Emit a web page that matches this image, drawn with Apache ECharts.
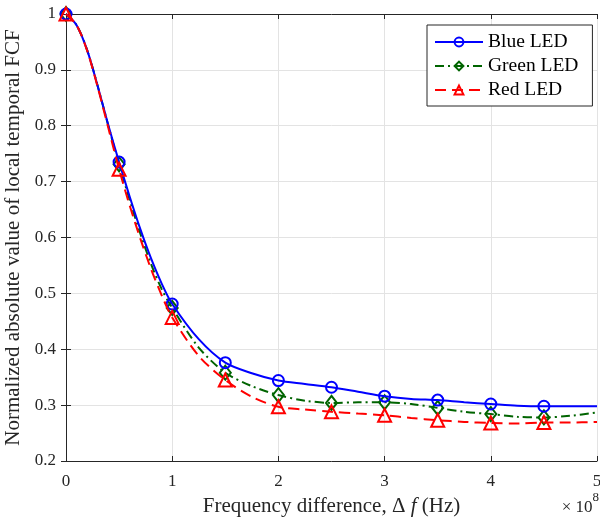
<!DOCTYPE html>
<html><head><meta charset="utf-8">
<script src="https://cdn.jsdelivr.net/npm/echarts@6/dist/echarts.min.js"></script>
<style>html,body{margin:0;padding:0;background:#fff}#c{width:600px;height:521px}</style>
</head><body><div id="c"></div>
<script>
const xValues   = [0, 0.1, 0.2, 0.3, 0.4, 0.5, 0.6, 0.7, 0.8, 0.9, 1.0, 1.25, 1.5, 1.75, 2.0, 2.25, 2.5, 2.75, 3.0, 3.25, 3.5, 3.75, 4.0, 4.25, 4.5, 4.75, 5.0];
const blueLED   = [1.0, 0.98, 0.935, 0.87, 0.80, 0.735, 0.673, 0.615, 0.563, 0.518, 0.481, 0.418, 0.376, 0.357, 0.344, 0.338, 0.332, 0.324, 0.316, 0.311, 0.309, 0.305, 0.302, 0.299, 0.298, 0.298, 0.298];
const greenLED  = [1.0, 0.98, 0.935, 0.87, 0.799, 0.731, 0.667, 0.607, 0.553, 0.508, 0.474, 0.403, 0.358, 0.334, 0.318, 0.308, 0.304, 0.305, 0.305, 0.302, 0.295, 0.288, 0.284, 0.279, 0.278, 0.281, 0.287];
const redLED    = [1.0, 0.98, 0.934, 0.868, 0.795, 0.722, 0.657, 0.598, 0.544, 0.497, 0.457, 0.388, 0.345, 0.315, 0.297, 0.292, 0.288, 0.285, 0.282, 0.277, 0.273, 0.270, 0.268, 0.267, 0.269, 0.269, 0.270];
const markerX   = [0, 0.5, 1.0, 1.5, 2.0, 2.5, 3.0, 3.5, 4.0, 4.5];
const seriesNames = ['Blue LED', 'Green LED', 'Red LED'];

const FONT = '"Liberation Serif", "DejaVu Serif", serif';
const TXT = '#262626';

function build(vals) {
  return xValues.map((x, i) => {
    const item = {value: [x, vals[i]]};
    if (markerX.indexOf(x) < 0) item.symbol = 'none';
    return item;
  });
}

const chart = echarts.init(document.getElementById('c'), null, {renderer: 'canvas'});
const axisCommon = {
  type: 'value',
  axisLine: {show: true, lineStyle: {color: TXT, width: 1}},
  axisTick: {show: true, inside: true, length: 5, lineStyle: {color: TXT}},
};
const colors = ['#0000ff', '#006400', '#ff0000'];
const symbols = ['circle', 'diamond', 'triangle'];
chart.setOption({
  animation: false,
  backgroundColor: '#fff',
  textStyle: {fontFamily: FONT},
  grid: {left: 66, right: 3, top: 14, bottom: 60, containLabel: false, outerBoundsMode: 'none'},
  legend: {
    orient: 'vertical', left: 427, top: 25,
    data: seriesNames,
    backgroundColor: '#fff',
    borderColor: TXT, borderWidth: 1,
    padding: [7, 14, 6, 7],
    itemWidth: 48, itemHeight: 11, itemGap: 4,
    textStyle: {fontFamily: FONT, fontSize: 19.5, color: '#000', lineHeight: 19}
  },
  xAxis: [
    Object.assign({}, axisCommon, {
      min: 0, max: 5, interval: 1, position: 'bottom',
      name: 'Frequency difference, {n|Δ} {i|f} (Hz)',
      nameLocation: 'middle', nameGap: 35,
      nameTextStyle: {fontFamily: FONT, fontSize: 21, color: TXT,
        rich: {n: {fontFamily: FONT, fontSize: 21, color: TXT}, i: {fontFamily: FONT, fontSize: 21, fontStyle: 'italic', color: TXT}}},
      axisLabel: {fontFamily: FONT, fontSize: 17, color: TXT, margin: 12},
      splitLine: {show: true, lineStyle: {color: '#e3e3e3', width: 1}}
    }),
    Object.assign({}, axisCommon, {
      min: 0, max: 5, interval: 1, position: 'top',
      axisLabel: {show: false}, splitLine: {show: false}
    })
  ],
  yAxis: [
    Object.assign({}, axisCommon, {
      min: 0.2, max: 1, interval: 0.1, position: 'left',
      name: 'Normalized absolute value of local temporal FCF',
      nameLocation: 'middle', nameGap: 34,
      nameTextStyle: {fontFamily: FONT, fontSize: 21, color: TXT},
      axisLabel: {fontFamily: FONT, fontSize: 17, color: TXT, margin: 10,
        formatter: v => String(Math.round(v * 10) / 10)},
      splitLine: {show: true, lineStyle: {color: '#e3e3e3', width: 1}}
    }),
    Object.assign({}, axisCommon, {
      min: 0.2, max: 1, interval: 0.1, position: 'right',
      axisLabel: {show: false}, splitLine: {show: false}
    })
  ],
  graphic: [{
    type: 'text', right: 1, top: 491,
    style: {
      text: '{a|× 10}{s|8}',
      rich: {
        a: {fontFamily: FONT, fontSize: 17, fill: TXT, padding: [8, 0, 0, 0]},
        s: {fontFamily: FONT, fontSize: 13, fill: TXT, verticalAlign: 'top', padding: [0, 0, 8, 0]}
      }
    }
  }],
  series: seriesNames.map((n, i) => ({
    name: n, type: 'line', smooth: 0.3, xAxisIndex: 0, yAxisIndex: 0,
    data: build([blueLED, greenLED, redLED][i]),
    symbol: symbols[i],
    symbolSize: [11, [11, 14], 13][i],
    z: [4, 3, 5][i],
    lineStyle: {color: colors[i], width: 2, type: ['solid', [9, 4, 2, 4], [11, 6]][i]},
    itemStyle: {color: 'rgba(255,255,255,0)', borderColor: colors[i], borderWidth: 2}
  }))
});
</script></body></html>
